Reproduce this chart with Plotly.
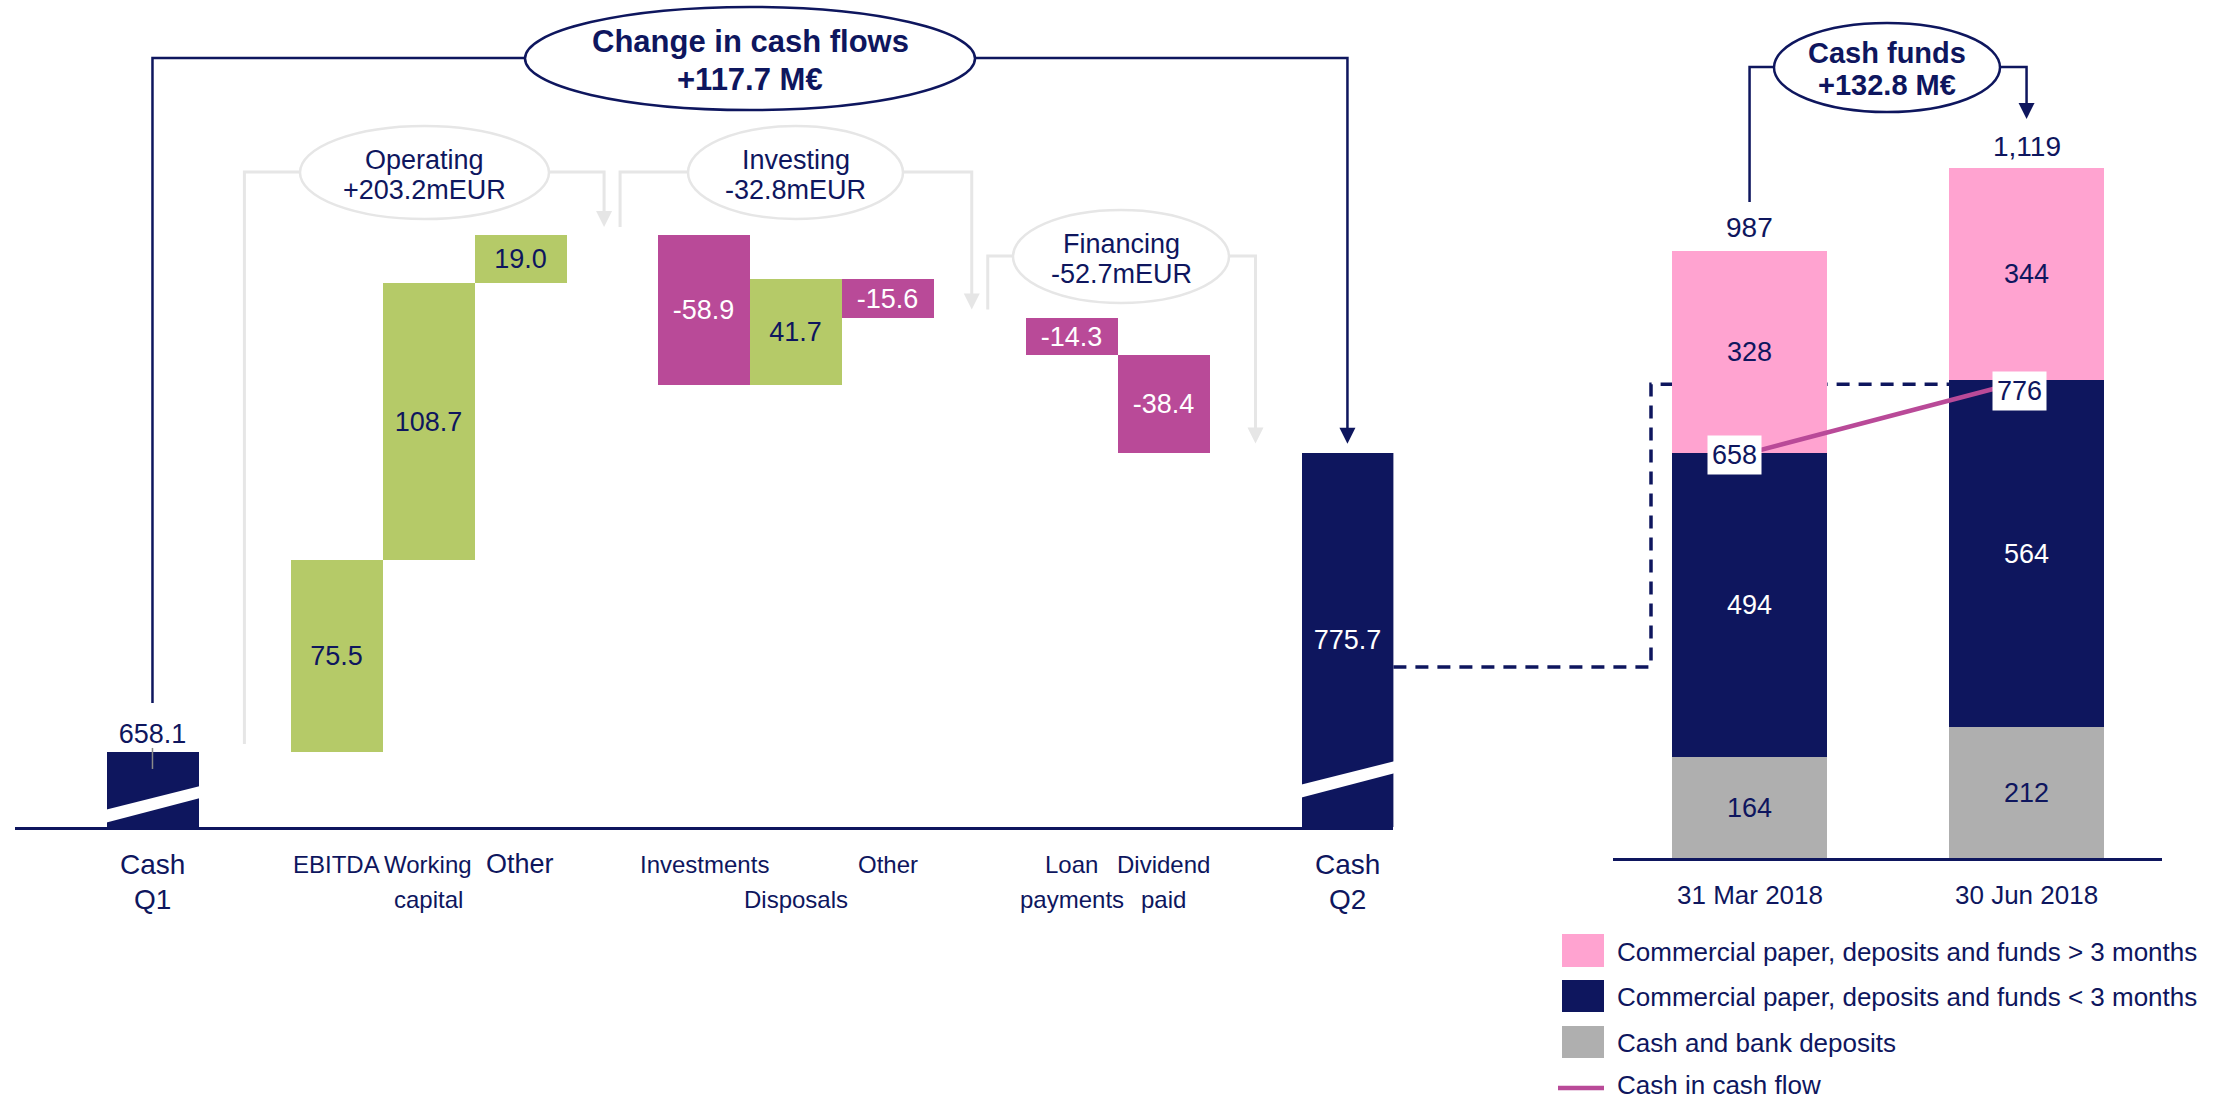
import plotly.graph_objects as go

# ---------------- data ----------------
wf_positions = [0, 2, 3, 4, 6, 7, 8, 10, 11, 13]
wf_label_row1 = ["Cash", "EBITDA", "Working", "Other", "Investments", "", "Other", "Loan", "Dividend", "Cash"]
wf_label_row2 = ["Q1", "", "capital", "", "", "Disposals", "", "payments", "paid", "Q2"]
cash_q1 = 658.1
cash_q2 = 775.7
flow_values = [75.5, 108.7, 19.0, -58.9, 41.7, -15.6, -14.3, -38.4]

group_titles = ["Operating", "Investing", "Financing"]
group_values = ["+203.2mEUR", "-32.8mEUR", "-52.7mEUR"]
change_title = ["Change in cash flows", "+117.7 M€"]

dates = ["31 Mar 2018", "30 Jun 2018"]
cash_bank = [164, 212]
cp_lt3 = [494, 564]
cp_gt3 = [328, 344]
totals = [987, 1119]
cash_in_cf = [658, 776]
cash_funds_title = ["Cash funds", "+132.8 M€"]
legend_names = ["Commercial paper, deposits and funds > 3 months",
                "Commercial paper, deposits and funds < 3 months",
                "Cash and bank deposits",
                "Cash in cash flow"]

# ---------------- style ----------------
NAVY = "#0E165E"
GREEN = "#B5CA68"
MAGENTA = "#B94A98"
PINK = "#FFA3D0"
GREY = "#AFAFAF"
LIGHT = "#E6E6E6"
WHITE = "#FFFFFF"
FONT = "Liberation Sans, Arial, sans-serif"

W, H = 2232, 1103
XL_PX, XL_RANGE = (14.6, 1393.4), (-1.5, 13.5)
YL_PX, YL_RANGE = (827.0, 0.0), (628.6, 953.7)
XR_PX, XR_RANGE = (1613.0, 2162.0), (-0.493, 1.489)
YR_PX, YR_RANGE = (858.0, 0.0), (0.0, 1393.5)
RBAR_W = 0.56


def _map(v, rng, px):
    return px[0] + (v - rng[0]) / (rng[1] - rng[0]) * (px[1] - px[0])


def lx(v): return _map(v, XL_RANGE, XL_PX)
def ly(v): return _map(v, YL_RANGE, YL_PX)
def rx(v): return _map(v, XR_RANGE, XR_PX)
def ry(v): return _map(v, YR_RANGE, YR_PX)
def PX(x): return x / W
def PY(y): return 1 - y / H


shapes = []
annotations = []


def seg(pts, color, width, dash=None, layer="above"):
    d = "M " + " L ".join(f"{PX(x):.6f},{PY(y):.6f}" for x, y in pts)
    line = dict(color=color, width=width)
    if dash:
        line["dash"] = dash
    shapes.append(dict(type="path", xref="paper", yref="paper", path=d,
                       line=line, layer=layer))


def poly(pts, color, layer="above"):
    d = "M " + " L ".join(f"{PX(x):.6f},{PY(y):.6f}" for x, y in pts) + " Z"
    shapes.append(dict(type="path", xref="paper", yref="paper", path=d,
                       fillcolor=color, line=dict(width=0), layer=layer))


def arrow_down(x, ytip, color):
    poly([(x - 8, ytip - 16), (x + 8, ytip - 16), (x, ytip)], color)


def ellipse(cx, cy, rxp, ryp, color, width):
    shapes.append(dict(type="circle", xref="paper", yref="paper",
                       x0=PX(cx - rxp), x1=PX(cx + rxp),
                       y0=PY(cy + ryp), y1=PY(cy - ryp),
                       fillcolor=WHITE, line=dict(color=color, width=width)))


def rect(x0, y0, x1, y1, color):
    shapes.append(dict(type="rect", xref="paper", yref="paper",
                       x0=PX(x0), x1=PX(x1), y0=PY(y1), y1=PY(y0),
                       fillcolor=color, line=dict(width=0)))


def text(x, y, s, size, color=NAVY, bold=False, xanchor="center", yanchor="middle"):
    annotations.append(dict(x=PX(x), y=PY(y), xref="paper", yref="paper",
                            text=f"<b>{s}</b>" if bold else s, showarrow=False,
                            xanchor=xanchor, yanchor=yanchor,
                            font=dict(family=FONT, size=size, color=color)))


# ---------------- waterfall bars ----------------
Y0 = YL_RANGE[0]
levels = []
run = cash_q1
for v in flow_values:
    levels.append(run)
    run += v
level_after = [cash_q1 + sum(flow_values[:i + 1]) for i in range(len(flow_values))]

wf_base = [Y0] + levels + [Y0]
wf_y = [cash_q1 - Y0] + flow_values + [cash_q2 - Y0]
wf_color = [NAVY] + [GREEN if v > 0 else MAGENTA for v in flow_values] + [NAVY]
wf_text = [f"{cash_q1:.1f}"] + [f"{v:.1f}" for v in flow_values] + [f"{cash_q2:.1f}"]
wf_tcol = [NAVY] + [NAVY if v > 0 else WHITE for v in flow_values] + [WHITE]
wf_tpos = ["outside"] + ["inside"] * (len(flow_values) + 1)

fig = go.Figure()
fig.add_trace(go.Bar(
    x=wf_positions, y=wf_y, base=wf_base, width=1.0,
    marker=dict(color=wf_color, line=dict(width=0)),
    text=wf_text, textposition=wf_tpos, insidetextanchor="middle",
    constraintext="none", cliponaxis=False,
    textfont=dict(family=FONT, size=27, color=wf_tcol),
    outsidetextfont=dict(family=FONT, size=27, color=NAVY),
    showlegend=False, xaxis="x", yaxis="y", hoverinfo="skip"))

# ---------------- cash funds stacked bars ----------------
rxpos = [0, 1]
base_navy = cash_bank
base_pink = [a + b for a, b in zip(cash_bank, cp_lt3)]
for vals, base, col, tcol, name in [
        (cash_bank, [0, 0], GREY, NAVY, legend_names[2]),
        (cp_lt3, base_navy, NAVY, WHITE, legend_names[1]),
        (cp_gt3, base_pink, PINK, NAVY, legend_names[0])]:
    fig.add_trace(go.Bar(
        x=rxpos, y=vals, base=base, width=RBAR_W, name=name,
        marker=dict(color=col, line=dict(width=0)),
        text=[str(v) for v in vals], textposition="inside",
        insidetextanchor="middle", constraintext="none",
        textfont=dict(family=FONT, size=27, color=tcol),
        showlegend=False, xaxis="x2", yaxis="y2", hoverinfo="skip"))

fig.add_trace(go.Scatter(
    x=rxpos, y=cash_in_cf, mode="lines", name=legend_names[3],
    line=dict(color=MAGENTA, width=4.5), showlegend=False,
    xaxis="x2", yaxis="y2", hoverinfo="skip"))

# totals above bars
for i, t in enumerate(totals):
    annotations.append(dict(x=rxpos[i], y=t, xref="x2", yref="y2",
                            text=f"{t:,}", showarrow=False, yanchor="bottom",
                            yshift=5, font=dict(family=FONT, size=28, color=NAVY)))
# cash in cash flow labels
for i, (v, xs, ys) in enumerate(zip(cash_in_cf, [-15, -7], [-2, -11])):
    annotations.append(dict(x=rxpos[i], y=v, xref="x2", yref="y2", text=str(v),
                            showarrow=False, xshift=xs, yshift=ys,
                            bgcolor=WHITE, borderpad=4,
                            font=dict(family=FONT, size=27, color=NAVY)))

# ---------------- decorations: breaks ----------------
base_px = YL_PX[0]
for pos, off in [(wf_positions[0], 0), (wf_positions[-1], 25)]:
    xl, xr = lx(pos - 0.52), lx(pos + 0.52)
    poly([(xl, base_px - 4 - off), (xr, base_px - 29 - off),
          (xr, base_px - 41 - off), (xl, base_px - 17 - off)], WHITE)

# small grey tick on Cash Q1
seg([(lx(0), ly(cash_q1) - 4), (lx(0), ly(cash_q1) + 17)], "#8A8A8A", 1.5)

# ---------------- big "change in cash flows" bracket ----------------
BR_Y = 58
seg([(lx(0), 703), (lx(0), BR_Y), (525, BR_Y)], NAVY, 2.5)
seg([(975, BR_Y), (lx(13), BR_Y), (lx(13), ly(cash_q2) - 24)], NAVY, 2.5)
arrow_down(lx(13), ly(cash_q2) - 9, NAVY)
ellipse(750, 58.5, 225, 51.5, NAVY, 2.5)
text(750, 42, change_title[0], 31, bold=True)
text(750, 79, change_title[1], 31, bold=True)

# ---------------- group brackets (grey) ----------------
# operating
OP_Y = 172
seg([(lx(1), ly(cash_q1) - 8), (lx(1), OP_Y), (300, OP_Y)], LIGHT, 3)
seg([(549, OP_Y), (lx(5) - 8, OP_Y), (lx(5) - 8, ly(level_after[2]) - 22)], LIGHT, 3)
arrow_down(lx(5) - 8, ly(level_after[2]) - 8, LIGHT)
ellipse(424.5, 172.5, 124.5, 46.5, LIGHT, 2.5)
text(424.5, 160, group_titles[0], 27)
text(424.5, 190, group_values[0], 27)
# investing
seg([(lx(5) + 8, ly(level_after[2]) - 8), (lx(5) + 8, OP_Y), (688, OP_Y)], LIGHT, 3)
seg([(903, OP_Y), (lx(9) - 8, OP_Y), (lx(9) - 8, ly(level_after[5]) - 23)], LIGHT, 3)
arrow_down(lx(9) - 8, ly(level_after[5]) - 9, LIGHT)
ellipse(795.5, 172.5, 107.5, 46.5, LIGHT, 2.5)
text(795.5, 160, group_titles[1], 27)
text(795.5, 190, group_values[1], 27)
# financing
FI_Y = 256
seg([(lx(9) + 8, ly(level_after[5]) - 9), (lx(9) + 8, FI_Y), (1013, FI_Y)], LIGHT, 3)
seg([(1229, FI_Y), (lx(12), FI_Y), (lx(12), ly(level_after[7]) - 23)], LIGHT, 3)
arrow_down(lx(12), ly(level_after[7]) - 9, LIGHT)
ellipse(1121, 256.5, 108, 46.5, LIGHT, 2.5)
text(1121, 244, group_titles[2], 27)
text(1121, 274, group_values[2], 27)

# ---------------- cash funds bracket ----------------
CF_Y = 67
seg([(rx(0), 202), (rx(0), CF_Y), (1774, CF_Y)], NAVY, 2.5)
seg([(2000, CF_Y), (rx(1), CF_Y), (rx(1), 105)], NAVY, 2.5)
arrow_down(rx(1), 119, NAVY)
ellipse(1887, 67.5, 113, 44.5, NAVY, 2.5)
text(1887, 53, cash_funds_title[0], 29, bold=True)
text(1887, 85, cash_funds_title[1], 29, bold=True)

# ---------------- dashed connector ----------------
seg([(XL_PX[1], 667), (1651, 667), (1651, ry(cash_in_cf[1]) + 4),
     (rx(1 - RBAR_W / 2), ry(cash_in_cf[1]) + 4)], NAVY, 3.5, dash="13px,9px", layer="below")

# ---------------- category labels ----------------
for i, pos in enumerate(wf_positions):
    big = i in (0, len(wf_positions) - 1)
    size = 28 if big else (27 if i == 3 else 24)
    if wf_label_row1[i]:
        text(lx(pos), 864, wf_label_row1[i], size)
    if wf_label_row2[i]:
        text(lx(pos), 899, wf_label_row2[i], size)
for i, d in enumerate(dates):
    text(rx(rxpos[i]), 895, d, 26)

# ---------------- legend (custom) ----------------
leg_cols = [PINK, NAVY, GREY]
leg_y = [(934, 967), (980, 1012), (1026, 1058)]
for (y0, y1), c in zip(leg_y, leg_cols):
    rect(1562, y0, 1604, y1, c)
seg([(1558, 1088), (1604, 1088)], MAGENTA, 4.5)
for name, yc in zip(legend_names[:3], [952, 997, 1043]):
    text(1615, yc, name, 26, xanchor="left")
text(1615, 1102, legend_names[3], 26, xanchor="left", yanchor="bottom")

axis_common = dict(showgrid=False, zeroline=False, showticklabels=False, ticks="")
fig.update_layout(
    width=W, height=H, autosize=False,
    margin=dict(l=0, r=0, t=0, b=0, pad=0),
    paper_bgcolor=WHITE, plot_bgcolor="rgba(0,0,0,0)",
    barmode="overlay", bargap=0,
    font=dict(family=FONT, color=NAVY),
    xaxis=dict(domain=[PX(XL_PX[0]), PX(XL_PX[1])], range=list(XL_RANGE),
               showline=True, linecolor=NAVY, linewidth=2.5, anchor="y", **axis_common),
    yaxis=dict(domain=[PY(YL_PX[0]), 1], range=list(YL_RANGE), showline=False,
               anchor="x", **axis_common),
    xaxis2=dict(domain=[PX(XR_PX[0]), PX(XR_PX[1])], range=list(XR_RANGE),
                showline=True, linecolor=NAVY, linewidth=2.5, anchor="y2", **axis_common),
    yaxis2=dict(domain=[PY(YR_PX[0]), 1], range=list(YR_RANGE), showline=False,
                anchor="x2", **axis_common),
    shapes=shapes, annotations=annotations, showlegend=False,
)

fig.write_html("out.html")
